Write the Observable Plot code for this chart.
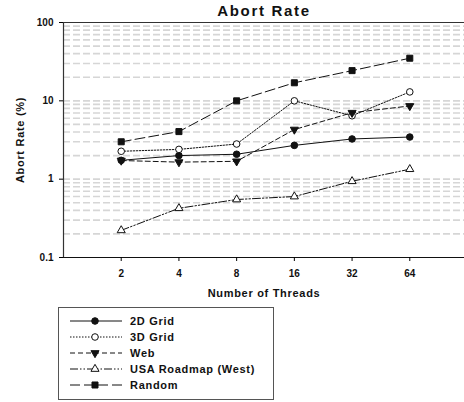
<!DOCTYPE html>
<html><head><meta charset="utf-8">
<script src="https://cdn.jsdelivr.net/npm/d3@7"></script>
<script src="https://cdn.jsdelivr.net/npm/@observablehq/plot@0.6"></script>
<style>
body{margin:0;background:#fff;font-family:Arial,"Liberation Sans",sans-serif;}
#wrap{position:relative;width:464px;height:402px;overflow:hidden;}
#chart{position:absolute;left:0;top:0;}
#legend{position:absolute;left:58px;top:307px;width:216px;height:93px;box-sizing:border-box;border:1.5px solid #555;padding-top:5px;}
.row{display:flex;align-items:center;height:16px;}
.row svg{margin-left:11px;margin-right:8px;flex:none;}
.row span{font-weight:bold;font-size:11px;letter-spacing:0.7px;color:#111;}
</style></head>
<body><div id="wrap"><div id="chart"></div><div id="legend"></div></div>
<script>
const threads = [2, 4, 8, 16, 32, 64];
const grid2d  = [1.74, 2.0, 2.08, 2.7, 3.26, 3.45];
const grid3d  = [2.27, 2.4, 2.81, 10.0, 6.45, 13.0];
const web     = [1.73, 1.65, 1.69, 4.3, 7.05, 8.6];
const usaWest = [0.222, 0.425, 0.55, 0.6, 0.94, 1.34];
const random  = [3.0, 4.05, 10.0, 17.0, 24.3, 35.0];
const seriesNames = ["2D Grid", "3D Grid", "Web", "USA Roadmap (West)", "Random"];
const yTicks = [0.1, 1, 10, 100];
const gridVals = [0.2,0.3,0.4,0.5,0.6,0.7,0.8,0.9,1,2,3,4,5,6,7,8,9,10,20,30,40,50,60,70,80,90];

const triangleDown = {
  draw(ctx, size) {
    const s3 = Math.sqrt(3);
    const y = -Math.sqrt(size / (s3 * 3));
    ctx.moveTo(0, -y * 2);
    ctx.lineTo(-s3 * y, y);
    ctx.lineTo(s3 * y, y);
    ctx.closePath();
  }
};

const styles = [
  {dash: null, symbol: "circle", fill: "#111", r: 3.3},
  {dash: "1.5,1.5", symbol: "circle", fill: "white", r: 3.3},
  {dash: "5,3", symbol: triangleDown, fill: "#111", r: 3},
  {dash: "8,2,1.5,2,1.5,2", symbol: "triangle", fill: "white", r: 3},
  {dash: "10,4", symbol: "square", fill: "#111", r: 3.4}
];
const values = [grid2d, grid3d, web, usaWest, random];
const series = seriesNames.map((name, i) => ({
  name, ...styles[i],
  data: threads.map((t, j) => ({threads: t, rate: values[i][j], name}))
}));

const marks = [
  Plot.ruleY(gridVals, {stroke: "#d6d6d6", strokeWidth: 1.6, strokeDasharray: "7,3"}),
  Plot.ruleY([100], {stroke: "#333", strokeWidth: 1.2}),
  Plot.ruleY([0.1], {stroke: "#111", strokeWidth: 1.2}),
  Plot.ruleX([1], {stroke: "#333", strokeWidth: 1.2}),
  Plot.axisX({ticks: threads, tickFormat: d => d, tickSize: 4, tickPadding: 8, label: null, fontWeight: "bold", fontSize: 10, fill: "#111"}),
  Plot.axisY({ticks: yTicks, tickFormat: d => String(d), tickSize: 4, tickPadding: 6, label: null, fontWeight: "bold", fontSize: 10, fill: "#111"}),
  ...series.map(s => Plot.line(s.data, {x: "threads", y: "rate", stroke: "#111", strokeWidth: 1, strokeDasharray: s.dash || undefined})),
  ...series.map(s => Plot.dot(s.data, {x: "threads", y: "rate", symbol: s.symbol, r: s.r, fill: s.fill, stroke: "#111", strokeWidth: 1})),
  Plot.text(["Abort Rate"], {text: d => d, frameAnchor: "top", lineAnchor: "middle", textAnchor: "middle", dy: -11.5, fontSize: 15, fontWeight: "bold", fill: "#111"}),
  Plot.text(["Number of Threads"], {text: d => d, frameAnchor: "bottom", lineAnchor: "middle", textAnchor: "middle", dy: 36, fontSize: 11, fontWeight: "bold", fill: "#111"}),
  Plot.text(["Abort Rate (%)"], {text: d => d, frameAnchor: "left", lineAnchor: "middle", textAnchor: "middle", dx: -43, rotate: -90, fontSize: 11, fontWeight: "bold", fill: "#111"})
];

const chart = Plot.plot({
  width: 464, height: 300,
  marginLeft: 63, marginRight: 0, marginTop: 22, marginBottom: 43,
  style: {fontFamily: "Arial, 'Liberation Sans', sans-serif", background: "white", overflow: "visible"},
  x: {type: "log", base: 2, domain: [1, 128], range: [63, 467]},
  y: {type: "log", domain: [0.1, 100]},
  marks
});
document.getElementById("chart").appendChild(chart);
const spacing = {"Abort Rate": "1.7px", "Number of Threads": "0.7px", "Abort Rate (%)": "0.7px"};
d3.select(chart).selectAll("text").each(function() {
  const sp = spacing[this.textContent];
  if (sp) d3.select(this).style("letter-spacing", sp);
});

const legend = d3.select("#legend");
series.forEach(s => {
  const row = legend.append("div").attr("class", "row");
  const svg = row.append("svg").attr("width", 52).attr("height", 16);
  svg.append("line").attr("x1", 0).attr("x2", 52).attr("y1", 8).attr("y2", 8)
    .attr("stroke", "#111").attr("stroke-width", 1)
    .attr("stroke-dasharray", s.dash);
  const sym = typeof s.symbol === "string"
    ? {circle: d3.symbolCircle, triangle: d3.symbolTriangle, square: d3.symbolSquare}[s.symbol]
    : s.symbol;
  svg.append("path").attr("transform", "translate(25,8)")
    .attr("d", d3.symbol().type(sym).size(s.r * s.r * Math.PI)())
    .attr("fill", s.fill).attr("stroke", "#111").attr("stroke-width", 1);
  row.append("span").text(s.name);
});
</script></body></html>
